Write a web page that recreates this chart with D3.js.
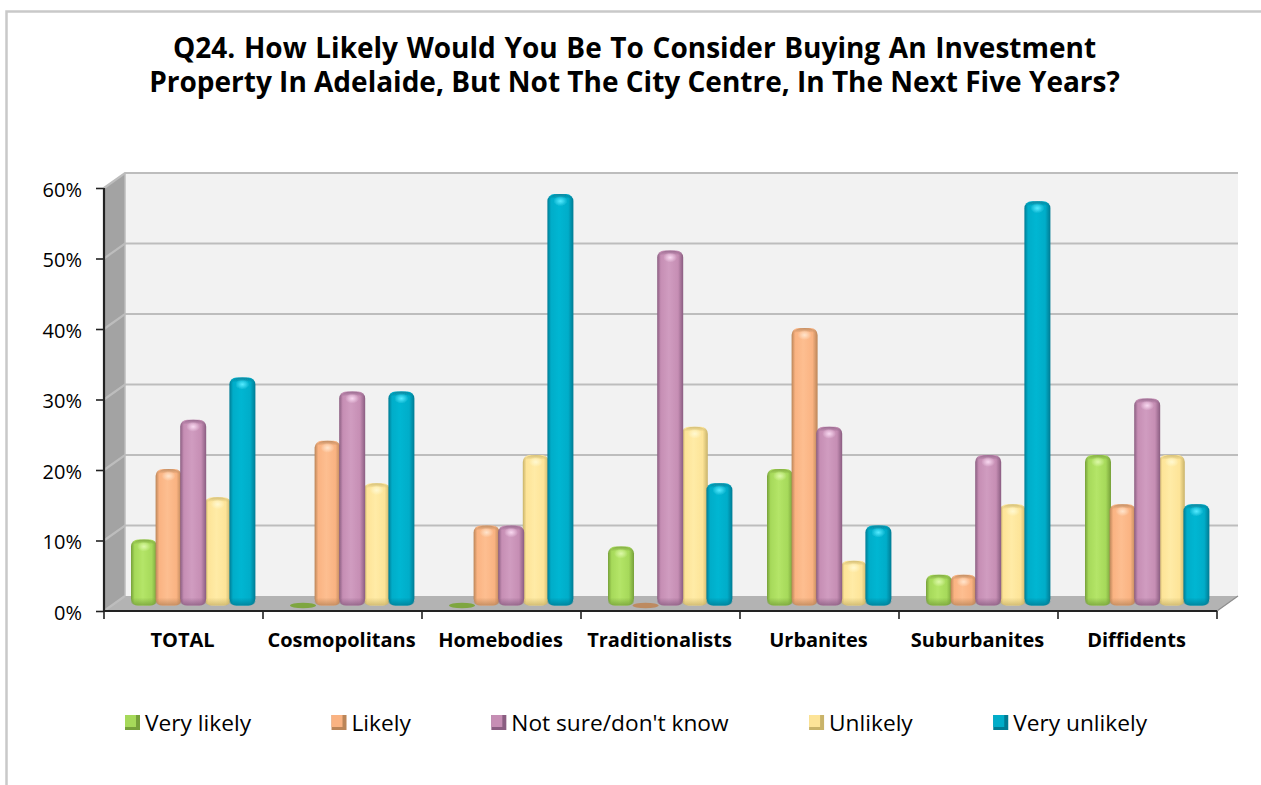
<!DOCTYPE html>
<html><head><meta charset="utf-8">
<script src="https://cdnjs.cloudflare.com/ajax/libs/d3/7.8.5/d3.min.js"></script>
<style>html,body{margin:0;padding:0;background:#fff}svg{display:block}text{font-family:"Open Sans",sans-serif;fill:#000}</style>
</head><body><svg id="c" width="1261" height="785"></svg>
<script>
const titleLines=["Q24. How Likely Would You Be To Consider Buying An Investment","Property In Adelaide, But Not The City Centre, In The Next Five Years?"];
const categories=["TOTAL","Cosmopolitans","Homebodies","Traditionalists","Urbanites","Suburbanites","Diffidents"];
const seriesNames=["Very likely","Likely","Not sure/don't know","Unlikely","Very unlikely"];
const veryLikely=[9,0,0,8,19,4,21];
const likely=[19,23,11,0,39,4,14];
const notSure=[26,30,11,50,25,21,29];
const unlikely=[15,17,21,25,6,14,21];
const veryUnlikely=[32,30,58,17,11,57,14];
const yTicks=[0,10,20,30,40,50,60];
const seriesValues=[veryLikely,likely,notSure,unlikely,veryUnlikely];
const palettes=[
 {edge:"#76a03a",main:"#a6d95a",light:"#b4e568",rim:"#7ea63f",hi:"#dcf8a8"},
 {edge:"#bb8558",main:"#fab382",light:"#fdbe90",rim:"#bd8a60",hi:"#ffe4cc"},
 {edge:"#8a5d81",main:"#c68eb4",light:"#d09cc0",rim:"#94668b",hi:"#f8d8f0"},
 {edge:"#c9b369",main:"#fde498",light:"#ffeba6",rim:"#cfb970",hi:"#fff8d0"},
 {edge:"#007b93",main:"#00adc9",light:"#06b6d2",rim:"#0a8097",hi:"#55eaff"}];
const drawOrder=[0,1,3,2,4];

const svg=d3.select("#c"), defs=svg.append("defs");
const m={l:104,r:1217,top:188,bot:611}, dx=21, dy=-15;
const x=d3.scaleBand().domain(categories).range([m.l,m.r]);
const y=d3.scaleLinear().domain([0,60]).range([m.bot,m.top]);
const inner=d3.scaleBand().domain(d3.range(5)).range([0,123]);
const barW=26, barOff=27, barDy=-5.5;

const blur=defs.append("filter").attr("id","soft").attr("x","-10%").attr("y","-10%").attr("width","120%").attr("height","120%");
blur.append("feGaussianBlur").attr("stdDeviation",0.55);
palettes.forEach((p,i)=>{
 const g=defs.append("linearGradient").attr("id","b"+i);
 [[0,p.edge],[.14,p.main],[.45,p.light],[.8,p.main],[1,p.edge]].forEach(s=>g.append("stop").attr("offset",s[0]).attr("stop-color",s[1]));
 const r=defs.append("radialGradient").attr("id","h"+i);
 r.append("stop").attr("offset",0).attr("stop-color",p.hi);
 r.append("stop").attr("offset",1).attr("stop-color",p.hi).attr("stop-opacity",0);
 const v=defs.append("linearGradient").attr("id","v"+i).attr("x1",0).attr("x2",0).attr("y1",0).attr("y2",1);
 v.append("stop").attr("offset",0).attr("stop-color",p.edge).attr("stop-opacity",0);
 v.append("stop").attr("offset",1).attr("stop-color",p.edge).attr("stop-opacity",.8);
 const t=defs.append("linearGradient").attr("id","t"+i).attr("x1",0).attr("x2",0).attr("y1",0).attr("y2",1);
 t.append("stop").attr("offset",0).attr("stop-color",p.rim).attr("stop-opacity",.9);
 t.append("stop").attr("offset",1).attr("stop-color",p.rim).attr("stop-opacity",0);
});

// frame
svg.append("path").attr("d","M6.5,785V11.5H1261").attr("fill","none").attr("stroke","#c9c9c9").attr("stroke-width",2.5);

// title
svg.append("g").selectAll("text").data(titleLines).join("text")
 .attr("x",634.5).attr("y",(d,i)=>58+i*33.5).attr("text-anchor","middle")
 .attr("word-spacing",(d,i)=>i===0?1.4:0)
 .attr("font-size",28).attr("font-weight",700).text(d=>d);

// walls
const pt=(px,v,k)=>[px+dx*k,y(v)+dy*k];
const line=d3.line();
svg.append("path").attr("d",line([pt(m.l,0,0),pt(m.l,0,1),pt(m.l,60,1),pt(m.l,60,0)])+"Z").attr("fill","#a3a3a3");
svg.append("path").attr("d",line([pt(m.l,0,1),pt(m.r,0,1),pt(m.r,60,1),pt(m.l,60,1)])+"Z").attr("fill","#f2f2f2");
svg.append("path").attr("d",line([pt(m.l,0,0),pt(m.r,0,0),pt(m.r,0,1),pt(m.l,0,1)])+"Z").attr("fill","#b3b3b3");
// gridlines
svg.append("g").selectAll("path").data(yTicks).join("path")
 .attr("d",v=>line(v===0?[pt(m.l,v,0),pt(m.l,v,1)]:[pt(m.l,v,0),pt(m.l,v,1),pt(m.r,v,1)]))
 .attr("fill","none").attr("stroke","#bdbdbd").attr("stroke-width",2.2);
svg.append("path").attr("d",line([pt(m.r,0,0),pt(m.r,0,1)])).attr("fill","none").attr("stroke","#8c8c8c").attr("stroke-width",1.2);
svg.append("path").attr("d",line([pt(m.l,0,1),pt(m.l,60,1)])).attr("fill","none").attr("stroke","#bdbdbd").attr("stroke-width",1.5);

// bars
const bars=svg.append("g").attr("filter","url(#soft)");
categories.forEach((c,ci)=>{
 drawOrder.forEach(si=>{
  const v=seriesValues[si][ci], p=palettes[si];
  const bx=x(c)+barOff+inner(si), top=y(v)+barDy, base=y(0)+barDy;
  const g=bars.append("g");
  if(v===0){
    g.append("ellipse").attr("cx",bx+barW/2).attr("cy",base).attr("rx",barW/2).attr("ry",2.8).attr("fill",p.rim);
    return;
  }
  const capTop=top-2.5;
  g.append("rect").attr("x",bx).attr("y",capTop).attr("width",barW).attr("height",base-capTop)
    .attr("rx",7).attr("ry",7).attr("fill",`url(#b${si})`);
  g.append("rect").attr("x",bx).attr("y",base-8).attr("width",barW).attr("height",8)
    .attr("rx",7).attr("ry",6).attr("fill",`url(#v${si})`);
  g.append("path").attr("d",`M${bx+2},${capTop+5}Q${bx+3},${capTop} ${bx+barW/2},${capTop}Q${bx+barW-3},${capTop} ${bx+barW-2},${capTop+5}Q${bx+barW/2},${capTop+2} ${bx+2},${capTop+5}Z`)
    .attr("fill",`url(#t${si})`);
  g.append("ellipse").attr("cx",bx+barW/2).attr("cy",capTop+7).attr("rx",7).attr("ry",5).attr("fill",`url(#h${si})`);
 });
});

// axes
const yAxis=d3.axisLeft(y).tickValues(yTicks).tickSize(8).tickPadding(14).tickFormat(d=>d+"%");
const ya=svg.append("g").attr("transform",`translate(${m.l},0)`).call(yAxis);
const xAxis=d3.axisBottom(x).tickValues([]).tickSizeOuter(8);
const xa=svg.append("g").attr("transform",`translate(0,${m.bot})`).call(xAxis);
xa.selectAll(".tk").data(d3.range(8)).join("line").attr("class","tk")
 .attr("x1",i=>m.l+i*x.step()).attr("x2",i=>m.l+i*x.step()).attr("y1",0).attr("y2",8).attr("stroke","#222").attr("stroke-width",1.4);
[ya,xa].forEach(a=>a.selectAll("path,line").attr("stroke","#222").attr("stroke-width",1.6));
ya.select(".domain").attr("d",`M${0},${m.top}V${m.bot}`).attr("stroke-width",2.2);
xa.select(".domain").attr("d",`M${m.l},0H${m.r}`).attr("stroke-width",2.2);
ya.selectAll("text").attr("font-size",20).attr("font-family","Open Sans").attr("fill","#000").attr("transform","translate(0,2)");
svg.append("g").selectAll("text").data(categories).join("text")
 .attr("x",d=>x(d)+x.bandwidth()/2-1).attr("y",647).attr("text-anchor","middle")
 .attr("font-size",20).attr("font-weight",700).text(d=>d);

// legend
let lx=125;
const leg=svg.append("g");
seriesNames.forEach((n,i)=>{
 const g=leg.append("g").attr("transform",`translate(${lx},715)`);
 g.append("rect").attr("width",15).attr("height",15).attr("fill",palettes[i].edge);
 g.append("rect").attr("x",0).attr("y",0).attr("width",11).attr("height",12).attr("fill",palettes[i].main);
 const t=g.append("text").attr("x",20).attr("y",16).attr("font-size",22.7).text(n);
 lx+=20+t.node().getComputedTextLength()+80.5;
});
</script></body></html>
